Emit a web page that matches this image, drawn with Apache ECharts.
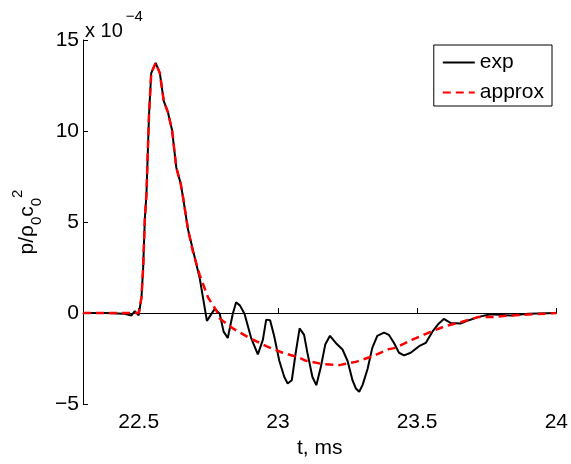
<!DOCTYPE html>
<html lang="en">
<head>
  <meta charset="UTF-8">
  <title>p/rho0c0^2 vs t</title>
  <style type="text/css">
    html, body { margin: 0; padding: 0; background: #fff; }
  </style>
</head>
<body>
  <div id="main" style="width: 571px; height: 464px;"></div>
</body>
<script type="text/javascript" src="https://cdn.jsdelivr.net/npm/echarts@6/dist/echarts.min.js"></script>
<script type="text/javascript">
  // measured signal, t in ms, value in units of 1e-4
  var expT = [22.300, 22.379, 22.449, 22.456, 22.474, 22.486, 22.500, 22.510, 22.516, 22.522, 22.528, 22.537, 22.545, 22.561, 22.576, 22.590, 22.605, 22.620, 22.635, 22.651, 22.659, 22.677, 22.719, 22.745, 22.773, 22.791, 22.805, 22.820, 22.838, 22.850, 22.864, 22.880, 22.904, 22.928, 22.946, 22.958, 22.972, 22.987, 23.005, 23.023, 23.035, 23.050, 23.064, 23.078, 23.094, 23.106, 23.124, 23.138, 23.154, 23.170, 23.187, 23.208, 23.232, 23.250, 23.268, 23.280, 23.292, 23.304, 23.322, 23.339, 23.357, 23.381, 23.399, 23.417, 23.435, 23.453, 23.477, 23.507, 23.531, 23.555, 23.578, 23.596, 23.620, 23.656, 23.686, 23.722, 23.763, 23.835, 23.900, 24.000]
  var expV = [0, 0, -0.04, 0.05, -0.13, 0.11, -0.13, 0.86, 2.47, 5.14, 6.57, 10.85, 13.18, 13.74, 13.18, 11.66, 11.03, 10.04, 8.0, 7.1, 6.39, 4.61, 1.93, -0.43, 0.23, -0.04, -1.02, -1.37, -0.04, 0.59, 0.41, -0.04, -1.37, -2.27, -1.47, -0.36, -0.39, -1.29, -2.62, -3.51, -3.87, -3.69, -2.18, -0.84, -1.20, -2.18, -3.51, -3.96, -2.98, -1.73, -1.25, -1.64, -2.00, -2.62, -3.69, -4.14, -4.32, -3.96, -3.07, -1.91, -1.25, -1.07, -1.20, -1.64, -2.18, -2.32, -2.18, -1.82, -1.64, -1.02, -0.57, -0.32, -0.54, -0.57, -0.39, -0.21, -0.07, -0.13, -0.04, 0]

  // approximation
  var approxT = [22.300, 22.500, 22.510, 22.516, 22.522, 22.528, 22.537, 22.545, 22.561, 22.576, 22.590, 22.605, 22.620, 22.635, 22.651, 22.659, 22.677, 22.695, 22.719, 22.749, 22.779, 22.791, 22.838, 22.898, 22.958, 23.017, 23.077, 23.101, 23.160, 23.220, 23.280, 23.339, 23.399, 23.423, 23.483, 23.542, 23.602, 23.662, 23.721, 23.781, 23.835, 24.000]
  var approxV = [0, 0, 0.86, 2.47, 5.14, 6.57, 10.85, 13.18, 13.74, 13.18, 11.66, 11.03, 10.04, 8.0, 7.1, 6.39, 4.61, 3.35, 2.10, 0.86, 0.14, -0.30, -0.84, -1.37, -1.82, -2.18, -2.45, -2.62, -2.80, -2.86, -2.68, -2.38, -1.98, -1.91, -1.46, -1.07, -0.71, -0.48, -0.21, -0.21, -0.13, 0]

  var xTicks = [22.5, 23, 23.5, 24]

  function pairs(t, v) {
    var out = []
    for (var i = 0; i < t.length; i++) out.push([t[i], v[i]])
    return out
  }

  var font = 'Liberation Sans, Arial, Helvetica, sans-serif'
  var myChart = echarts.init(document.getElementById('main'))
  var option = {
    animation: false,
    textStyle: { fontFamily: font },
    title: {
      left: 80,
      top: 4,
      text: '{a|x 10}{s|−4}',
      textStyle: {
        fontWeight: 'normal',
        rich: {
          a: { fontFamily: font, fontSize: 20, fontWeight: 'normal', color: '#000', verticalAlign: 'bottom', lineHeight: 32 },
          s: { fontFamily: font, fontSize: 15, fontWeight: 'normal', color: '#000', verticalAlign: 'top', lineHeight: 32, padding: [0, 0, 0, 3] }
        }
      }
    },
    grid: { left: 83, right: 13, top: 40, bottom: 51 },
    legend: {
      right: 19,
      top: 45,
      orient: 'vertical',
      align: 'left',
      backgroundColor: '#fff',
      borderColor: '#000',
      borderWidth: 1,
      borderRadius: 0,
      padding: [7, 8, 3, 8],
      itemGap: 9,
      itemWidth: 32,
      itemHeight: 20,
      itemStyle: { opacity: 0 },
      textStyle: { fontFamily: font, fontSize: 21, color: '#000' },
      data: ['exp', 'approx']
    },
    xAxis: {
      type: 'value',
      min: 22.3,
      max: 24,
      name: 't, ms',
      nameLocation: 'middle',
      nameGap: 31,
      nameTextStyle: { fontFamily: font, fontSize: 21, color: '#000' },
      axisLine: { lineStyle: { color: '#000', width: 1 } },
      axisTick: { inside: true, length: 5, customValues: xTicks, lineStyle: { color: '#000' } },
      axisLabel: { customValues: xTicks, fontFamily: font, fontSize: 21, color: '#000', margin: 8 },
      splitLine: { show: false }
    },
    yAxis: {
      type: 'value',
      min: -5,
      max: 15,
      interval: 5,
      name: '{n|p/ρ}{b|0}{n|c}{b|0}{p|2}',
      nameLocation: 'middle',
      nameGap: 34,
      nameTextStyle: {
        rich: {
          n: { fontFamily: font, fontSize: 21, color: '#000', lineHeight: 34, verticalAlign: 'middle' },
          b: { fontFamily: font, fontSize: 15, color: '#000', lineHeight: 34, verticalAlign: 'bottom' },
          p: { fontFamily: font, fontSize: 15, color: '#000', lineHeight: 34, verticalAlign: 'top' }
        }
      },
      axisLine: { show: true, lineStyle: { color: '#000', width: 1 } },
      axisTick: { show: true, inside: true, length: 5, lineStyle: { color: '#000' } },
      axisLabel: {
        fontFamily: font, fontSize: 21, color: '#000', margin: 4,
        formatter: function (v) { return String(v).replace('-', '−') }
      },
      splitLine: { show: false }
    },
    series: [{
      name: 'exp',
      type: 'line',
      symbol: 'none',
      data: pairs(expT, expV),
      lineStyle: { color: '#000', width: 2 },
      itemStyle: { color: '#000' }
    }, {
      name: 'approx',
      type: 'line',
      symbol: 'none',
      data: pairs(approxT, approxV),
      lineStyle: { color: '#ff0000', width: 2.5, type: [8, 5] },
      itemStyle: { color: '#ff0000' }
    }]
  }
  myChart.setOption(option)
</script>
</html>
